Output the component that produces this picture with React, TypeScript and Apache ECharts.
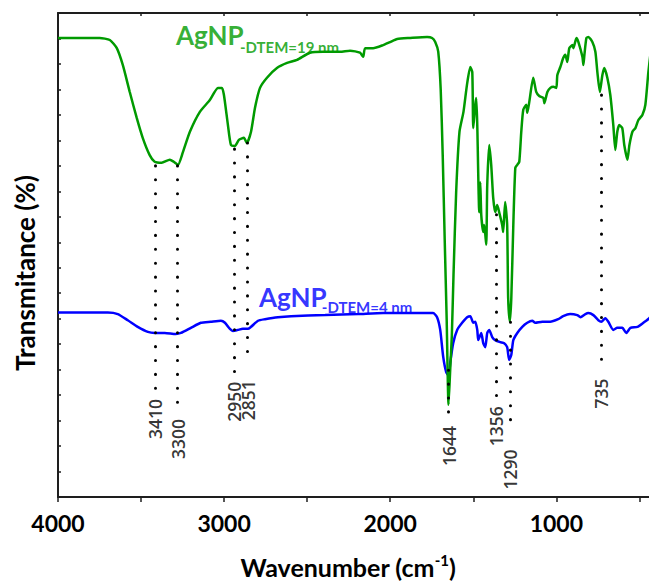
import React, { useEffect, useRef } from 'react';
import * as echarts from 'echarts';

const FONT = 'Lato, "Open Sans", "DejaVu Sans", sans-serif';
const PEAK_FONT = '"Open Sans", Lato, "DejaVu Sans", sans-serif';
const GREEN = '#009a00';
const BLUE = '#0000ff';

// [wavenumber (cm-1), transmittance (arbitrary %)]
const greenSpectrum: [number, number][] = [
  [4000, 90.1], [3749, 90.1], [3688, 89.7], [3646, 88.1], [3610, 84.8], [3568, 79.5], [3526, 74.4],
  [3490, 70.5], [3448, 67.1], [3418, 65.8], [3376, 65.6], [3327, 66.2], [3303, 65.8], [3278, 65.2],
  [3248, 67.7], [3206, 71.7], [3146, 75.6], [3086, 77.9], [3037, 80.3], [3013, 80.3], [3001, 78.9],
  [2977, 73.0], [2959, 69.1], [2935, 68.9], [2911, 70.1], [2881, 70.5], [2863, 69.5], [2838, 71.7],
  [2814, 76.4], [2784, 80.3], [2742, 82.3], [2682, 84.2], [2621, 85.2], [2561, 85.8], [2483, 87.2],
  [2405, 87.4], [2302, 87.4], [2242, 87.6], [2182, 87.2], [2163, 86.4], [2151, 88.1], [2103, 88.1],
  [2043, 88.7], [2001, 89.3], [1958, 89.9], [1880, 90.1], [1778, 90.3], [1748, 90.1], [1729, 89.3],
  [1711, 87.4], [1696, 79.9], [1684, 67.1], [1672, 50.5], [1660, 34.7], [1649, 18.1], [1639, 24.9],
  [1629, 31.8], [1619, 43.6], [1603, 59.9], [1583, 71.7], [1559, 75.6], [1538, 80.9], [1518, 84.4],
  [1506, 83.4], [1500, 72.4], [1488, 77.0], [1482, 78.3], [1476, 73.0], [1464, 55.9], [1458, 61.8],
  [1452, 55.4], [1440, 52.0], [1434, 53.4], [1422, 49.5], [1416, 61.2], [1404, 69.1], [1392, 65.2],
  [1380, 58.7], [1368, 55.9], [1356, 57.3], [1344, 55.9], [1326, 53.4], [1320, 52.0], [1308, 57.9],
  [1296, 53.4], [1290, 39.1], [1280, 34.4], [1271, 39.1], [1259, 53.4], [1247, 64.6], [1235, 65.2],
  [1223, 65.8], [1211, 71.7], [1199, 76.0], [1181, 77.0], [1175, 75.4], [1163, 77.5], [1139, 82.3],
  [1121, 79.5], [1103, 78.7], [1078, 78.3], [1072, 77.3], [1054, 79.5], [1036, 80.3], [1018, 80.5],
  [1000, 80.3], [994, 82.8], [976, 84.4], [958, 86.2], [946, 86.8], [934, 85.4], [922, 88.1],
  [903, 88.7], [897, 88.1], [879, 90.1], [867, 89.3], [843, 86.4], [837, 84.8], [831, 86.8],
  [819, 90.1], [807, 90.3], [783, 89.3], [765, 87.4], [753, 83.4], [738, 79.5], [723, 82.8],
  [711, 84.2], [693, 82.3], [675, 78.9], [657, 73.0], [645, 68.1], [633, 71.7], [621, 73.0],
  [603, 72.4], [591, 69.1], [572, 66.2], [560, 69.1], [542, 71.7], [524, 72.4], [506, 74.0],
  [482, 75.0], [464, 77.0], [446, 83.4], [434, 86.8],
];

const blueSpectrum: [number, number][] = [
  [4000, 36.2], [3700, 36.2], [3640, 35.9], [3580, 34.7], [3520, 33.4], [3459, 32.4], [3417, 32.2],
  [3357, 32.2], [3291, 32.0], [3260, 32.2], [3200, 33.2], [3140, 34.2], [3080, 34.4], [3019, 34.6],
  [2995, 34.2], [2965, 33.0], [2947, 32.6], [2917, 32.8], [2887, 33.0], [2857, 33.0], [2838, 33.4],
  [2796, 34.6], [2754, 34.9], [2676, 35.3], [2597, 35.5], [2392, 35.7], [2193, 35.9], [2043, 36.1],
  [1838, 36.1], [1742, 36.1], [1718, 35.3], [1699, 32.8], [1681, 27.5], [1663, 24.5], [1648, 23.8],
  [1639, 26.3], [1621, 30.2], [1597, 32.8], [1567, 34.2], [1537, 35.3], [1518, 35.5], [1500, 34.2],
  [1488, 34.4], [1476, 32.8], [1470, 30.8], [1452, 32.2], [1440, 30.2], [1428, 29.4], [1416, 32.2],
  [1404, 32.8], [1386, 31.4], [1368, 30.8], [1338, 30.4], [1314, 30.2], [1296, 29.4], [1284, 26.9],
  [1271, 27.9], [1259, 30.8], [1235, 32.2], [1205, 33.4], [1175, 34.2], [1145, 34.6], [1127, 34.2],
  [1085, 34.4], [1037, 34.4], [989, 34.9], [959, 35.5], [917, 35.9], [874, 35.7], [855, 35.3],
  [825, 35.9], [807, 36.1], [777, 35.7], [747, 34.7], [729, 34.4], [705, 35.1], [687, 34.4],
  [657, 32.8], [633, 33.2], [603, 33.2], [579, 32.2], [554, 33.2], [512, 33.4], [476, 34.2],
  [440, 35.1], [422, 36.3],
];

// peak annotations
const peakLabels = ['3410', '3300', '2950', '2851', '1644', '1356', '1290', '735'];
const peakPositions = [3415, 3280, 2939, 2858, 1649, 1363, 1277, 730];
const peakLineTop = [65.0, 65.0, 68.3, 69.5, 24.9, 55.4, 34.3, 78.9];
const peakLineBottom = [21.0, 18.3, 24.3, 25.9, 16.1, 19.6, 12.6, 24.9];
const peakLabelY = [15.3, 11.4, 18.7, 19.0, 10.0, 13.9, 5.4, 20.3];

// series name labels: main text and subscript, anchors in data coordinates
const nameTexts = ['AgNP', '-DTEM=19 nm', 'AgNP', '-DTEM=4 nm'];
const nameAnchors: [number, number][] = [[3290, 90.6], [2905, 88.3], [2790, 39.2], [2412, 37.2]];
const nameSizes = [26, 15, 26, 15];
const nameColors = [GREEN, GREEN, BLUE, BLUE];

const AXIS_COLOR = '#1e1e1e';

export default function App() {
  const ref = useRef<HTMLDivElement>(null);
  useEffect(() => {
    if (!ref.current) return;
    const chart = echarts.init(ref.current, undefined, { renderer: 'svg' });
    const xCommon = {
      type: 'value',
      inverse: true,
      min: 400,
      max: 4000,
      minInterval: 500,
      maxInterval: 500,
      splitLine: { show: false },
      axisLine: { show: true, onZero: false, lineStyle: { color: AXIS_COLOR, width: 2 } },
    };
    const option: any = {
      animation: false,
      textStyle: { fontFamily: FONT },
      grid: { left: 58, top: 13, right: -7, bottom: 86, containLabel: false, outerBoundsMode: 'none' },
      xAxis: [
        {
          ...xCommon,
          position: 'bottom',
          axisTick: { show: true, inside: false, length: 5, lineStyle: { color: AXIS_COLOR, width: 1.5 } },
          axisLabel: {
            interval: 0,
            formatter: (v: number) => (v % 1000 === 0 ? String(v) : ''),
            fontSize: 23,
            fontWeight: 'bold',
            color: '#000',
            fontFamily: FONT,
            margin: 14,
          },
          name: '{a|Wavenumber (cm}{s|-1}{a|)}',
          nameLocation: 'middle',
          nameGap: 55,
          nameTextStyle: {
            padding: [0, 18, 0, 0],
            rich: {
              a: { fontSize: 25, fontWeight: 'bold', color: '#000', fontFamily: FONT, lineHeight: 30 },
              s: { fontSize: 15, fontWeight: 'bold', color: '#000', fontFamily: FONT, lineHeight: 15, verticalAlign: 'top' },
            },
          },
        },
        {
          ...xCommon,
          position: 'top',
          axisTick: { show: true, inside: true, length: 3, lineStyle: { color: AXIS_COLOR, width: 1.5 } },
          axisLabel: { show: false },
        },
      ],
      yAxis: {
        type: 'value',
        min: 0,
        max: 95,
        interval: 5,
        splitLine: { show: false },
        axisLine: { show: true, onZero: false, lineStyle: { color: AXIS_COLOR, width: 2 } },
        axisTick: { show: true, inside: true, length: 3, lineStyle: { color: AXIS_COLOR, width: 1.5 } },
        axisLabel: { show: false },
        name: 'Transmitance (%)',
        nameLocation: 'middle',
        nameRotate: 90,
        nameGap: 20,
        nameTextStyle: { fontSize: 26, fontWeight: 'bold', color: '#000', fontFamily: FONT, padding: [0, 36, 0, 0] },
      },
      series: [
        {
          type: 'line',
          data: blueSpectrum,
          symbol: 'none',
          showSymbol: false,
          smooth: 0.2,
          lineStyle: { color: BLUE, width: 2.5 },
          z: 2,
          silent: true,
        },
        {
          type: 'line',
          data: greenSpectrum,
          symbol: 'none',
          showSymbol: false,
          smooth: 0.2,
          lineStyle: { color: GREEN, width: 2.5 },
          z: 3,
          silent: true,
        },
        {
          type: 'scatter',
          symbolSize: 0,
          silent: true,
          z: 5,
          data: peakLabels.map((l, i) => ({ name: l, value: [peakPositions[i], peakLabelY[i]] })),
          label: {
            show: true,
            formatter: '{b}',
            position: 'inside',
            rotate: 90,
            align: 'center',
            verticalAlign: 'middle',
            fontSize: 17.5,
            fontWeight: 600,
            color: '#000',
            fontFamily: PEAK_FONT,
          },
          markLine: {
            silent: true,
            symbol: ['none', 'none'],
            label: { show: false },
            lineStyle: { color: '#000', type: [0.1, 13.8], cap: 'round', width: 3 },
            data: peakPositions.map((p, i) => [
              { coord: [p, peakLineTop[i]] },
              { coord: [p, peakLineBottom[i]] },
            ]),
          },
        },
        {
          type: 'scatter',
          symbolSize: 0,
          silent: true,
          z: 6,
          data: nameTexts.map((t, i) => ({
            value: nameAnchors[i],
            label: {
              show: true,
              formatter: t,
              position: [0, 0],
              align: 'left',
              verticalAlign: 'middle',
              fontSize: nameSizes[i],
              fontWeight: 'bold',
              color: nameColors[i],
              fontFamily: FONT,
            },
          })),
        },
      ],
    };
    chart.setOption(option);
    return () => chart.dispose();
  }, []);
  return (
    <div
      ref={ref}
      style={{ position: 'fixed', left: 0, top: 0, width: 649, height: 583, background: '#fff' }}
    />
  );
}
